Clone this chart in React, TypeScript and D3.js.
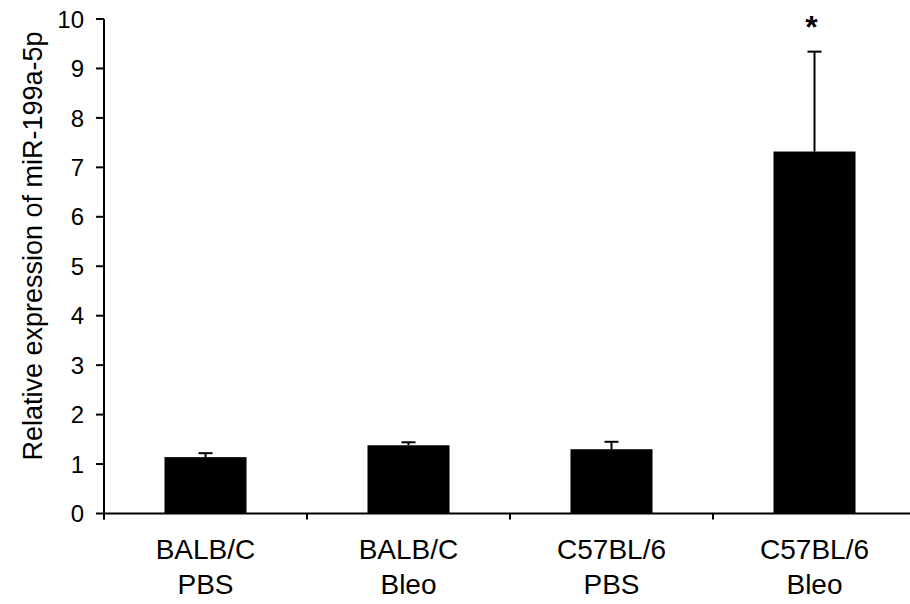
import React from "react";
import * as d3 from "d3";

const categories = ["BALB/C|PBS", "BALB/C|Bleo", "C57BL/6|PBS", "C57BL/6|Bleo"];
const means = [1.14, 1.38, 1.3, 7.32];
const errors = [0.08, 0.06, 0.15, 2.02];
const significance = ["", "", "", "*"];
const yTicks = [0, 1, 2, 3, 4, 5, 6, 7, 8, 9, 10];
const yLabel = "Relative expression of miR-199a-5p";

const W = 910;
const H = 604;
const left = 104;
const top = 19;
const bottom = 513.5;
const step = 203;

export default function App() {
  const x = d3
    .scaleBand<string>()
    .domain(categories)
    .range([left, left + step * categories.length])
    .paddingInner(0.596)
    .paddingOuter(0.298);
  const y = d3.scaleLinear().domain([0, 10]).range([bottom, top]);
  const font = "'Liberation Sans', Arial, sans-serif";
  const bw = x.bandwidth();
  const boundaries = categories.map((_, i) => left + i * x.step());

  return (
    <svg
      width={W}
      height={H}
      style={{ position: "absolute", left: 0, top: 0, background: "#fff" }}
      fontFamily={font}
    >
      <rect width={W} height={H} fill="#fff" />
      {categories.map((c, i) => (
        <rect
          key={c}
          x={x(c)}
          y={y(means[i])}
          width={bw}
          height={y(0) - y(means[i])}
          fill="#000"
        />
      ))}
      {categories.map((c, i) => {
        const cx = (x(c) as number) + bw / 2;
        return (
          <g key={"e" + c} stroke="#000" strokeWidth={2}>
            <line x1={cx} x2={cx} y1={y(means[i])} y2={y(means[i] + errors[i])} />
            <line x1={cx - 7} x2={cx + 7} y1={y(means[i] + errors[i])} y2={y(means[i] + errors[i])} />
          </g>
        );
      })}
      {categories.map((c, i) =>
        significance[i] ? (
          <text
            key={"s" + c}
            x={(x(c) as number) + bw / 2 - 3}
            y={38}
            textAnchor="middle"
            fontSize={32}
            fontWeight="bold"
            fill="#000"
          >
            {significance[i]}
          </text>
        ) : null
      )}
      <line x1={left} x2={left} y1={top} y2={bottom + 6} stroke="#000" strokeWidth={2} />
      {yTicks.map((t) => (
        <g key={"yt" + t}>
          <line x1={left - 8} x2={left} y1={y(t)} y2={y(t)} stroke="#000" strokeWidth={2} />
          <text x={left - 20} y={y(t)} dy="0.36em" textAnchor="end" fontSize={24} fill="#000">
            {t}
          </text>
        </g>
      ))}
      <line x1={left} x2={W} y1={bottom} y2={bottom} stroke="#000" strokeWidth={2} />
      {boundaries.map((b, i) => (
        <line key={"xt" + i} x1={b} x2={b} y1={bottom} y2={bottom + 6} stroke="#000" strokeWidth={2} />
      ))}
      {categories.map((c) => {
        const [l1, l2] = c.split("|");
        const cx = (x(c) as number) + bw / 2;
        return (
          <text key={"xl" + c} textAnchor="middle" fontSize={28} fill="#000">
            <tspan x={cx} y={559}>{l1}</tspan>
            <tspan x={cx} y={594}>{l2}</tspan>
          </text>
        );
      })}
      <text
        transform={`translate(42, 246) rotate(-90)`}
        textAnchor="middle"
        fontSize={27}
        fill="#000"
      >
        {yLabel}
      </text>
    </svg>
  );
}
